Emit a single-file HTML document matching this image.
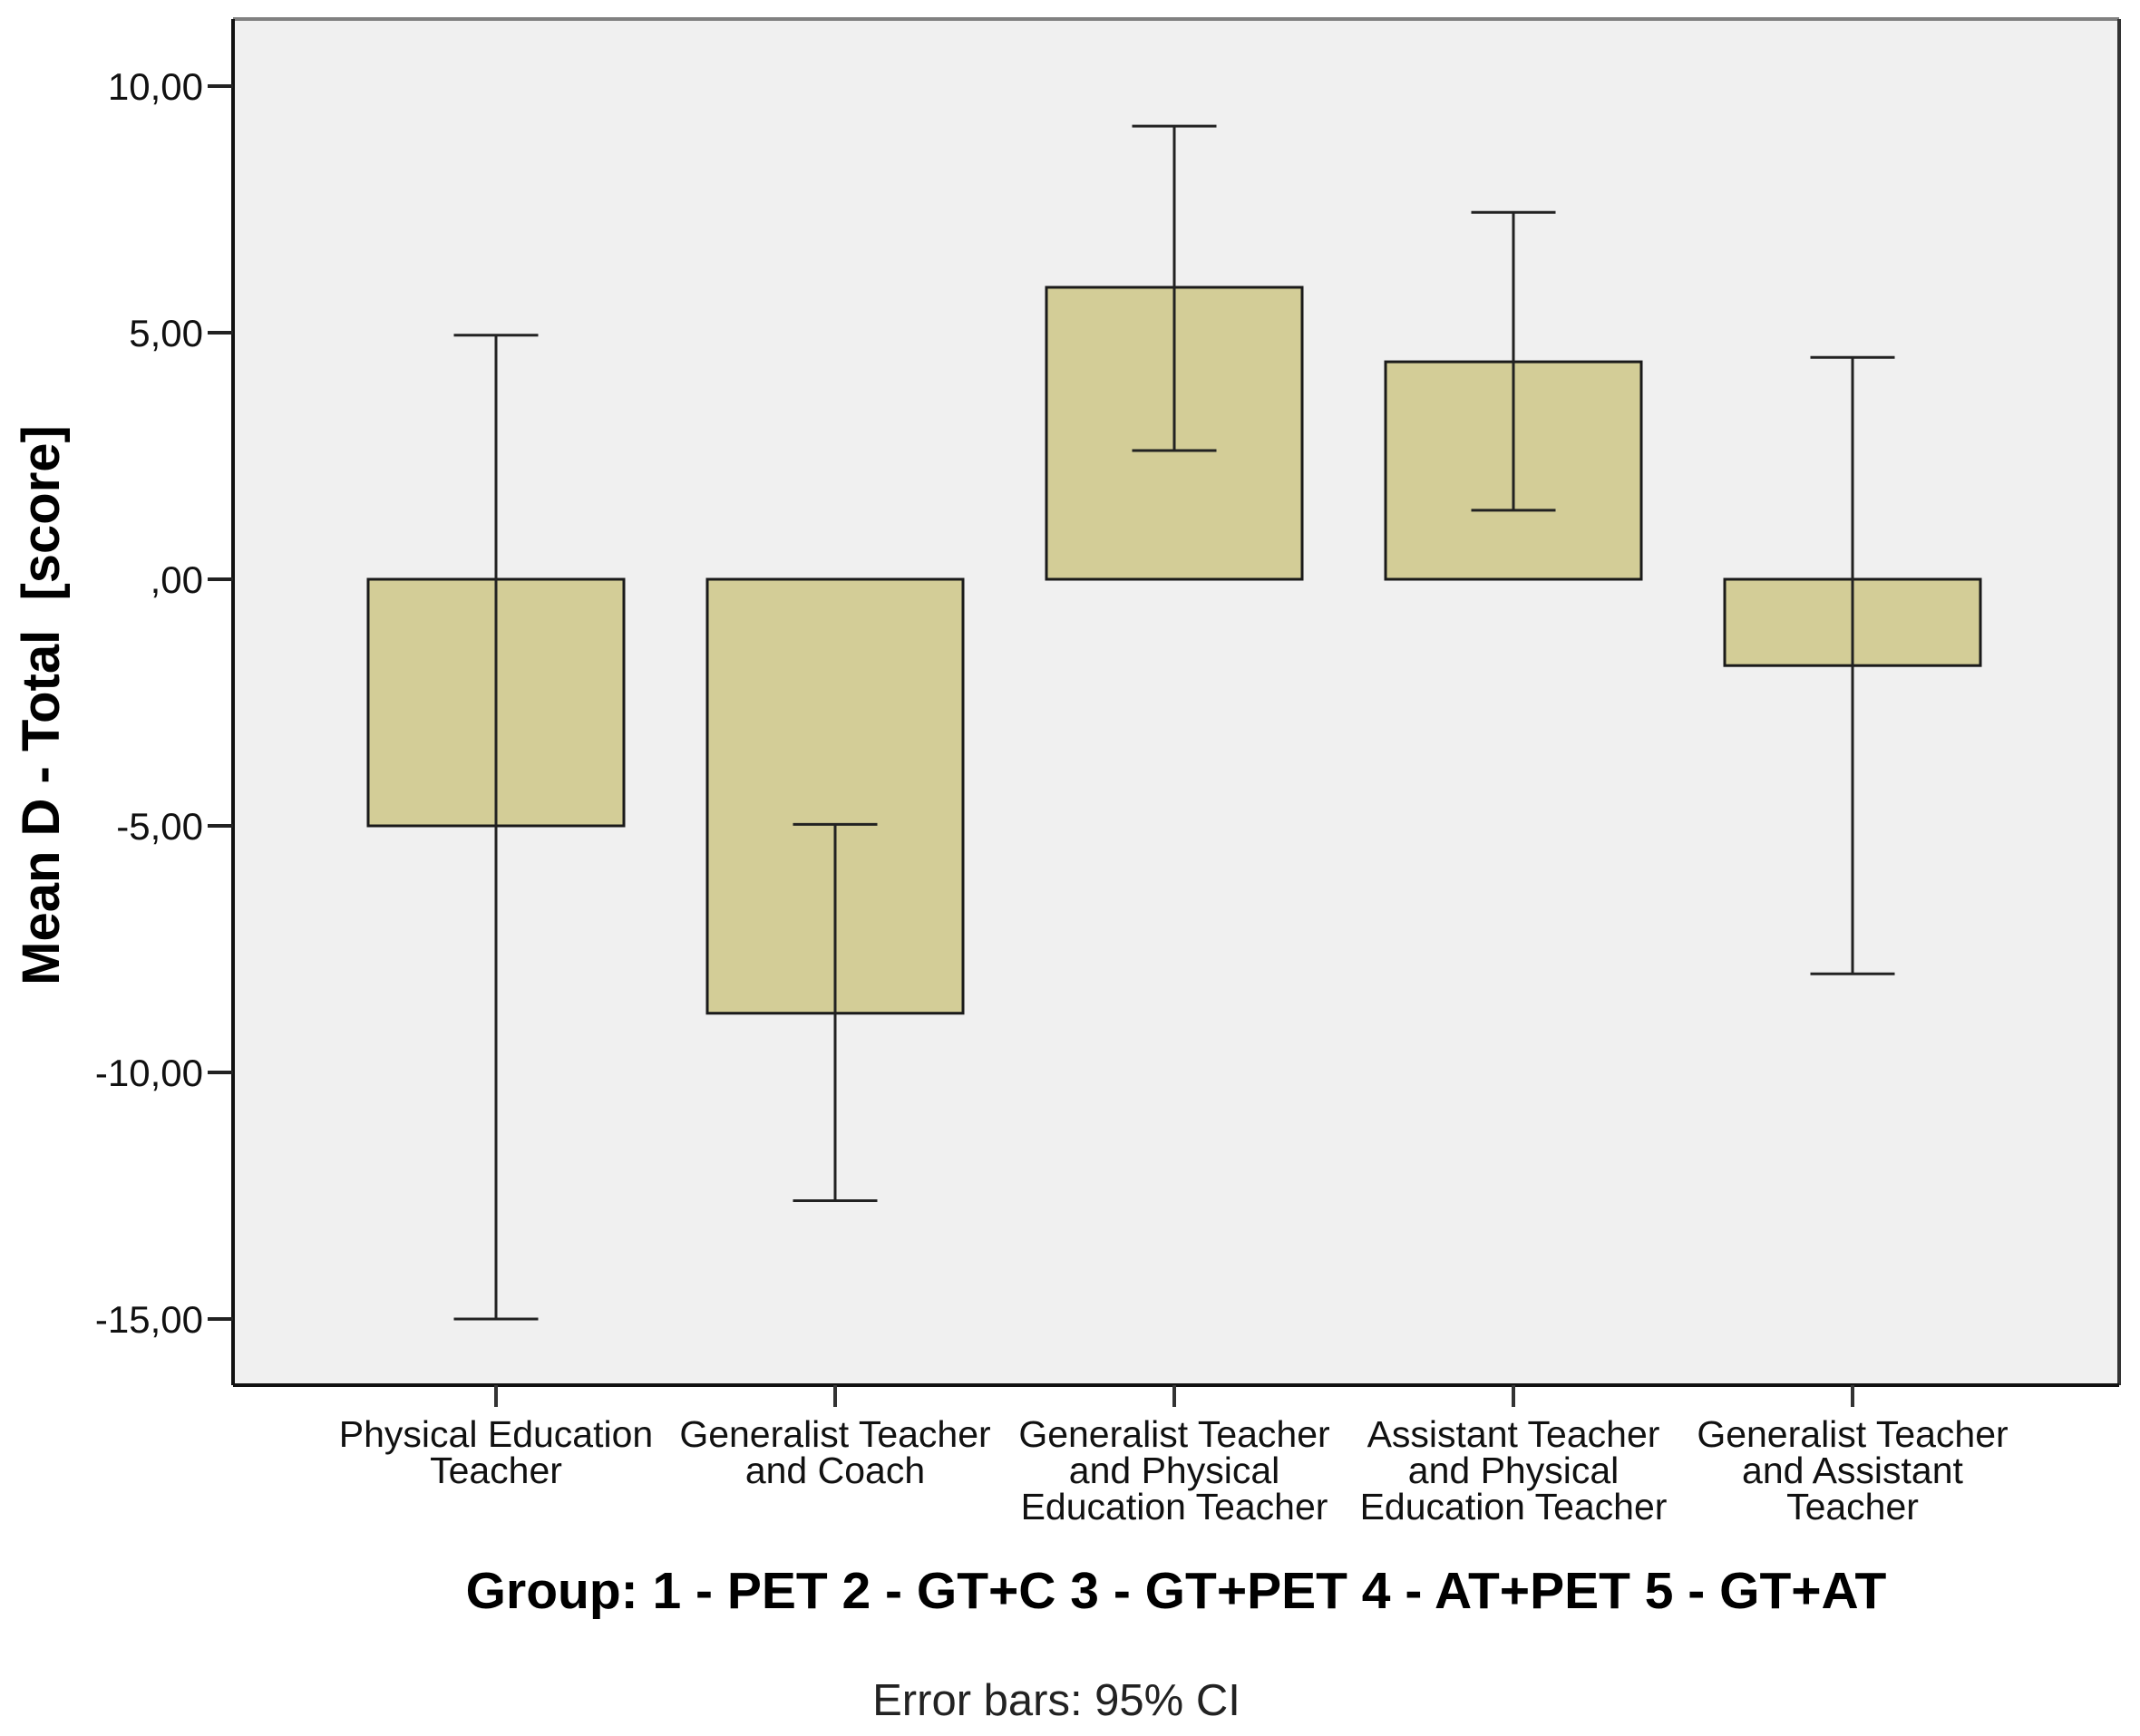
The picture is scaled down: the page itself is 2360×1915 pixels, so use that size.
<!DOCTYPE html>
<html><head><meta charset="utf-8"><style>
html,body{margin:0;padding:0;background:#fff;}
svg{display:block;}
text{font-family:"Liberation Sans",Arial,sans-serif;}
</style></head><body>
<svg id="chart" width="2360" height="1915" viewBox="0 0 2360 1915" xmlns="http://www.w3.org/2000/svg">
<rect x="257" y="21" width="2080" height="1507" fill="#f0f0f0"/>
<g id="marks"></g>
<line x1="257" y1="21" x2="2337" y2="21" stroke="#808080" stroke-width="4"/>
<line x1="2337" y1="21" x2="2337" y2="1528" stroke="#333" stroke-width="4"/>
<line x1="257" y1="21" x2="257" y2="1528" stroke="#111" stroke-width="4"/>
<line x1="257" y1="1528" x2="2337" y2="1528" stroke="#111" stroke-width="4"/>
<g id="axes"></g>
<text transform="translate(65,778) rotate(-90)" text-anchor="middle" font-size="58" font-weight="bold" xml:space="preserve">Mean D - Total  [score]</text>
<text x="1297" y="1774" text-anchor="middle" font-size="57" font-weight="bold">Group: 1 - PET 2 - GT+C 3 - GT+PET 4 - AT+PET 5 - GT+AT</text>
<text x="1165" y="1892" text-anchor="middle" font-size="49" fill="#222">Error bars: 95% CI</text>
</svg>
<script>
const categories = [["Physical Education","Teacher"],["Generalist Teacher","and Coach"],["Generalist Teacher","and Physical","Education Teacher"],["Assistant Teacher","and Physical","Education Teacher"],["Generalist Teacher","and Assistant","Teacher"]];
const means = [-5.0, -8.8, 5.92, 4.41, -1.75];
const ciLow = [-15.0, -12.6, 2.61, 1.4, -8.0];
const ciHigh = [4.95, -4.97, 9.19, 7.44, 4.5];
const yTicks = [10, 5, 0, -5, -10, -15];
const yTickLabels = ["10,00","5,00",",00","-5,00","-10,00","-15,00"];

const NS = "http://www.w3.org/2000/svg";
const y = v => 639 - 54.4 * v;
const x = i => 547 + 374 * i;
const barW = 282, capW = 93;
function mk(tag, attrs, parent) {
  const e = document.createElementNS(NS, tag);
  for (const k in attrs) e.setAttribute(k, attrs[k]);
  parent.appendChild(e);
  return e;
}
const marks = document.getElementById('marks');
const axes = document.getElementById('axes');
means.forEach((m, i) => {
  const cx = x(i);
  const top = Math.min(y(m), y(0)), h = Math.abs(y(m) - y(0));
  const bar = mk('rect', {x: cx - barW/2, y: top, width: barW, height: h, fill: '#d3cd97', stroke: '#1a1a1a', 'stroke-width': 3}, marks);
  
  
  const eb = mk('g', {stroke: '#222', 'stroke-width': 3}, marks);
  
  
  mk('line', {x1: cx, x2: cx, y1: y(ciLow[i]), y2: y(ciHigh[i])}, eb);
  mk('line', {x1: cx - capW/2, x2: cx + capW/2, y1: y(ciLow[i]), y2: y(ciLow[i])}, eb);
  mk('line', {x1: cx - capW/2, x2: cx + capW/2, y1: y(ciHigh[i]), y2: y(ciHigh[i])}, eb);
  const tk = mk('line', {x1: cx, x2: cx, y1: 1528, y2: 1552, stroke: '#333', 'stroke-width': 4}, axes);
  
  
  const t = mk('text', {x: cx, 'text-anchor': 'middle', 'font-size': 41, fill: '#111'}, axes);
  
  
  categories[i].forEach((line, j) => {
    const ts = mk('tspan', {x: cx, y: 1596 + j * 40}, t);
    ts.textContent = line;
  });
});
yTicks.forEach((v, i) => {
  const tk = mk('line', {x1: 229, x2: 257, y1: y(v), y2: y(v), stroke: '#222', 'stroke-width': 4}, axes);
  
  
  const t = mk('text', {x: 224, y: y(v) + 15, 'text-anchor': 'end', 'font-size': 42, fill: '#111'}, axes);
  
  
  t.textContent = yTickLabels[i];
});
</script>
</body></html>
